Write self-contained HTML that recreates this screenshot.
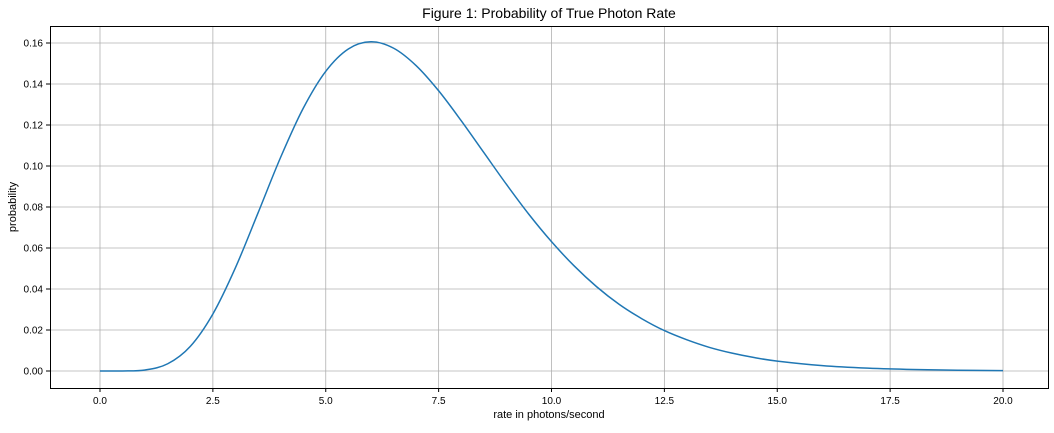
<!DOCTYPE html>
<html><head><meta charset="utf-8"><style>
body{margin:0;background:#fff;font-family:"Liberation Sans",sans-serif}
svg text{font-family:"Liberation Sans",sans-serif;fill:#000}
</style></head><body>
<svg id="chart" width="1054" height="428">
<text x="549" y="18" font-size="14" text-anchor="middle">Figure 1: Probability of True Photon Rate</text>
<g id="grid"></g>
<g id="ticks"></g>
<path id="curve" fill="none" stroke="#1f77b4" stroke-width="1.5"></path>
<rect x="50.5" y="26.5" width="998" height="362" fill="none" stroke="#000" stroke-width="1"></rect>
<text x="549" y="418" font-size="11" text-anchor="middle">rate in photons/second</text>
<text x="16" y="207" font-size="11" text-anchor="middle" transform="rotate(-90 16 207)">probability</text>
</svg>
<script>
const rates=[0,0.5,1,1.5,2,2.5,3,3.5,4,4.5,5,5.5,6,6.5,7,7.5,8,8.5,9,9.5,10,10.5,11,11.5,12,12.5,13,13.5,14,14.5,15,16,17,18,19,20];
const probs=[0,0.000013,0.00051,0.00353,0.01203,0.02783,0.05041,0.0771,0.1042,0.1281,0.1462,0.1571,0.1606,0.1575,0.1490,0.1367,0.1221,0.1066,0.0911,0.0764,0.0631,0.0513,0.0411,0.0325,0.0255,0.0197,0.0152,0.0115,0.0087,0.0065,0.00484,0.00262,0.00139,0.00072,0.00037,0.00018];
const xTicks=[0,2.5,5,7.5,10,12.5,15,17.5,20];
const xTickLabels=["0.0","2.5","5.0","7.5","10.0","12.5","15.0","17.5","20.0"];
const yTicks=[0,0.02,0.04,0.06,0.08,0.10,0.12,0.14,0.16];
const yTickLabels=["0.00","0.02","0.04","0.06","0.08","0.10","0.12","0.14","0.16"];
const X=v=>100+v*45.15, Y=v=>371-v*2050;
const NS="http://www.w3.org/2000/svg";
const grid=document.getElementById('grid'), ticks=document.getElementById('ticks');
function mk(tag,attrs,parent){const e=document.createElementNS(NS,tag);for(const k in attrs)e.setAttribute(k,attrs[k]);parent.appendChild(e);return e;}
xTicks.forEach((t,i)=>{const x=X(t);
 const g=mk('line',{x1:x,x2:x,y1:26,y2:388,stroke:'#b0b0b0','stroke-width':0.8},grid);
 
 
 const tk=mk('line',{x1:x,x2:x,y1:388,y2:392,stroke:'#000'},ticks);
 
 
 const tx=mk('text',{x:x,y:404,'font-size':10,'text-anchor':'middle'},ticks);tx.textContent=xTickLabels[i];
 
 
});
yTicks.forEach((t,i)=>{const y=Y(t);
 const g=mk('line',{x1:50,x2:1048,y1:y,y2:y,stroke:'#b0b0b0','stroke-width':0.8},grid);
 
 
 const tk=mk('line',{x1:46,x2:50,y1:y,y2:y,stroke:'#000'},ticks);
 
 
 const tx=mk('text',{x:43,y:y+3.5,'font-size':10,'text-anchor':'end'},ticks);tx.textContent=yTickLabels[i];
 
 
});
const pts=rates.map((r,i)=>[X(r),Y(probs[i])]);
let d='M'+pts[0][0]+','+pts[0][1];
for(let i=0;i<pts.length-1;i++){
 const p0=pts[Math.max(0,i-1)],p1=pts[i],p2=pts[i+1],p3=pts[Math.min(pts.length-1,i+2)];
 const c1=[p1[0]+(p2[0]-p0[0])/6,p1[1]+(p2[1]-p0[1])/6];
 const c2=[p2[0]-(p3[0]-p1[0])/6,p2[1]-(p3[1]-p1[1])/6];
 d+=' C'+c1+' '+c2+' '+p2;
}
document.getElementById('curve').setAttribute('d',d);
</script>
</body></html>
